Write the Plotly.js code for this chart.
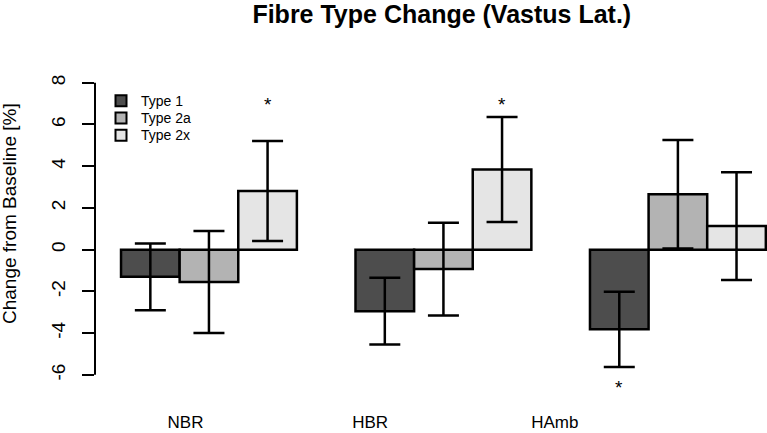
<!DOCTYPE html>
<html>
<head>
<meta charset="utf-8">
<script src="https://cdn.plot.ly/plotly-3.0.1.min.js"></script>
<style>html,body{margin:0;padding:0;background:#fff;}#chart{width:767px;height:433px;}</style>
</head>
<body>
<div id="chart"></div>
<script>
// ---- data ----
var groups = ["NBR", "HBR", "HAmb"];
var seriesNames = ["Type 1", "Type 2a", "Type 2x"];
var type1 = [-1.3, -2.95, -3.82];
var type2a = [-1.55, -0.93, 2.65];
var type2x = [2.81, 3.84, 1.13];
var err1 = [1.6, 1.6, 1.8];
var err2a = [2.45, 2.22, 2.6];
var err2x = [2.4, 2.52, 2.58];
// significance markers: [group index, series index, y value]
var sigGroup = [0, 1, 2];
var sigSeries = [2, 2, 0];
var sigY = [7.15, 7.15, -6.4];
var yTicks = [-6, -4, -2, 0, 2, 4, 6, 8];
var yTickText = ["-6", "-4", "-2", "0", "2", "4", "6", "8"];

var colors = ["#4d4d4d", "#b3b3b3", "#e5e5e5"];
var values = [type1, type2a, type2x];
var errors = [err1, err2a, err2x];

// plot area geometry (pixels) used to place the R-style legend in paper units
var M = { l: 95, r: 0, t: 60, b: 45 };
var W = 767, H = 433;
var PW = W - M.l - M.r, PH = H - M.t - M.b;
function px2x(px) { return (px - M.l) / PW; }
function py2y(py) { return (H - M.b - py) / PH; }

// R barplot(beside=TRUE) style positions: width 1, space c(0,1)
function barX(g, s) { return 1.5 + 4 * g + s; }

var traces = values.map(function (vals, s) {
  return {
    type: "bar",
    name: seriesNames[s],
    x: groups.map(function (_, g) { return barX(g, s); }),
    y: vals,
    width: 1,
    marker: { color: colors[s], line: { color: "#000", width: 2.5 } },
    error_y: { type: "data", array: errors[s], visible: true, color: "#000", thickness: 2.5, width: 15.5 },
    hoverinfo: "y",
    showlegend: false
  };
});

var annotations = sigGroup.map(function (g, i) {
  return {
    x: barX(g, sigSeries[i]), y: sigY[i], xref: "x", yref: "y",
    text: "*", showarrow: false, font: { family: "Liberation Sans, Arial", size: 19, color: "#000" },
    xanchor: "center", yanchor: "middle", yshift: -4
  };
});
annotations.push({
  text: "Change from Baseline [%]", xref: "paper", yref: "paper",
  x: -0.128, y: 0.5335, xanchor: "center", yanchor: "middle", textangle: -90,
  showarrow: false, font: { family: "Liberation Sans, Arial", size: 19, color: "#000" }
});

var shapes = [{
  type: "line", xref: "paper", yref: "y", x0: 0, x1: 0,
  y0: yTicks[0], y1: yTicks[yTicks.length - 1],
  line: { color: "#000", width: 2 }
}];

// legend (R style: filled boxes with black border, text to the right)
var legTop = 100.7, legStep = 17.3, boxL = 115.5, boxSize = 11, textX = 139;
seriesNames.forEach(function (nm, s) {
  var cy = legTop + s * legStep;
  shapes.push({
    type: "rect", xref: "paper", yref: "paper",
    x0: px2x(boxL), x1: px2x(boxL + boxSize),
    y0: py2y(cy + boxSize / 2), y1: py2y(cy - boxSize / 2),
    fillcolor: colors[s], line: { color: "#000", width: 2 }
  });
  annotations.push({
    text: nm, xref: "paper", yref: "paper", x: px2x(textX), y: py2y(cy),
    xanchor: "left", yanchor: "middle", showarrow: false,
    font: { family: "Liberation Sans, Arial", size: 14, color: "#000" }
  });
});

var layout = {
  width: W, height: H,
  margin: { l: M.l, r: M.r, t: M.t, b: M.b, pad: 0 },
  paper_bgcolor: "#fff", plot_bgcolor: "#fff",
  barmode: "overlay",
  showlegend: false,
  title: {
    text: "<b>Fibre Type Change (Vastus Lat.)</b>",
    x: 0.576, xref: "container", xanchor: "center",
    y: 0.967, yref: "container", yanchor: "middle",
    font: { family: "Liberation Sans, Arial", size: 25, color: "#000" }
  },
  xaxis: {
    range: [0.556, 12.02],
    showgrid: false, zeroline: false, showline: false,
    tickmode: "array", tickvals: [2.1, 5.25, 8.4], ticktext: groups,
    ticks: "", ticklabelstandoff: 22,
    tickfont: { family: "Liberation Sans, Arial", size: 17, color: "#000" },
    fixedrange: true
  },
  yaxis: {
    range: [-6.63, 9.09],
    showgrid: false, zeroline: false, showline: false,
    tickmode: "array", tickvals: yTicks, ticktext: yTickText,
    ticks: "outside", ticklen: 12, tickwidth: 2, tickcolor: "#000",
    tickangle: -90, ticklabelstandoff: 9,
    tickfont: { family: "Liberation Sans, Arial", size: 19, color: "#000" },
    fixedrange: true
  },
  shapes: shapes,
  annotations: annotations
};

Plotly.newPlot("chart", traces, layout, { displayModeBar: false });
</script>
</body>
</html>
